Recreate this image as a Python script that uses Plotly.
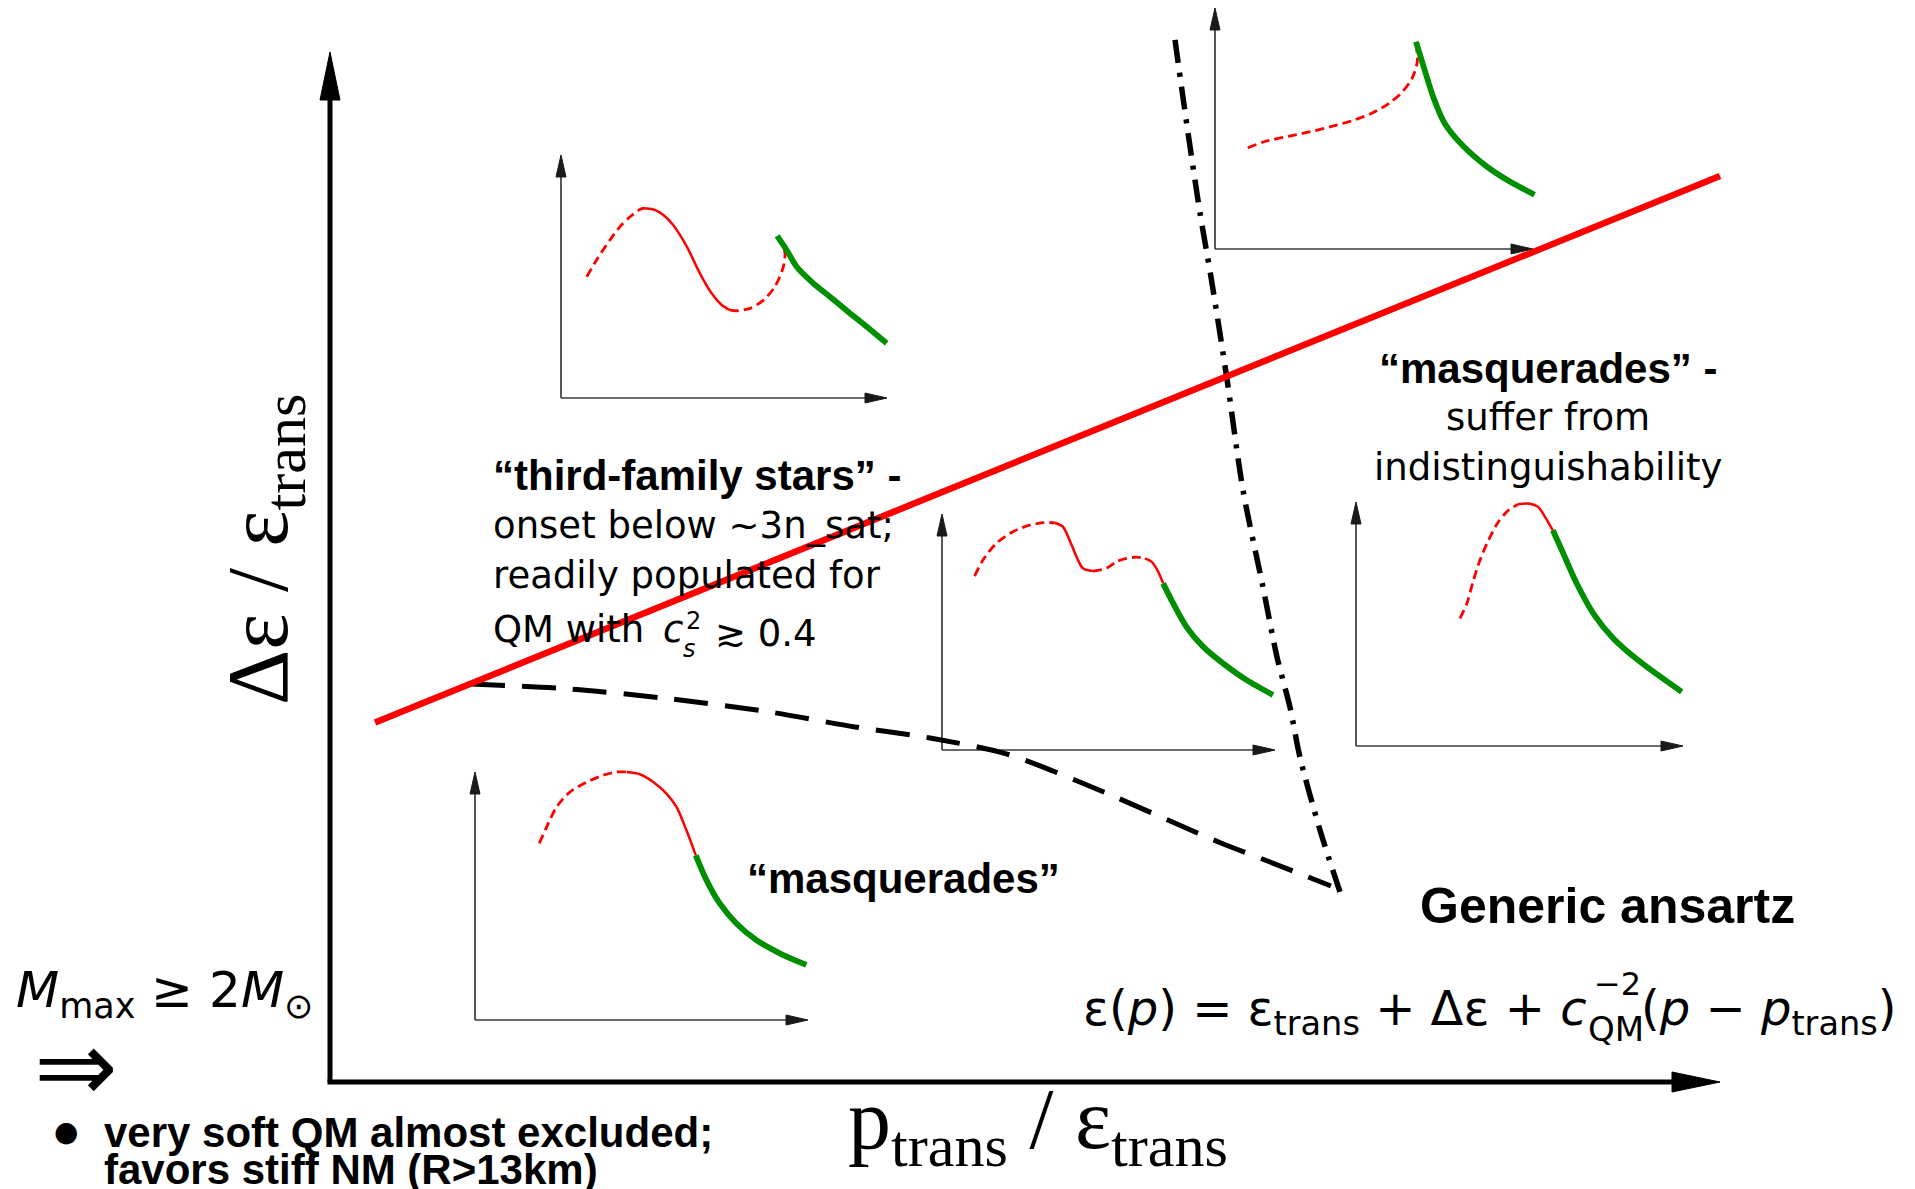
import plotly.graph_objects as go

PAGE_W, PAGE_H = 1915, 1189

# ======================= DATA =======================
# Main diagram, in axis units (arrow tip of each main axis = 1)
red_boundary_x = [0.0324, 1.0]
red_boundary_y = [0.3490, 0.8796]
dashed_boundary_x = [0.1014, 0.1727, 0.2460, 0.3165, 0.3777, 0.4317, 0.4871, 0.5532, 0.6410, 0.6763, 0.7201]
dashed_boundary_y = [0.3864, 0.3816, 0.3718, 0.3592, 0.3447, 0.3340, 0.3184, 0.2835, 0.2320, 0.2136, 0.1903]
dashdot_boundary_x = [0.6079, 0.6173, 0.6259, 0.6338, 0.6453, 0.6568, 0.6712, 0.6813, 0.6906, 0.6978, 0.7122, 0.7266]
dashdot_boundary_y = [1.0117, 0.9214, 0.8437, 0.7816, 0.6825, 0.5748, 0.4806, 0.4126, 0.3641, 0.3155, 0.2447, 0.1845]

# Inset curves, in inset units (0..100 = inset arrow tip)
# A: top-left inset (third family, two maxima)
A_dash1_x = [7.9, 10.9, 15.0, 18.1, 21.2, 24.2, 25.8]
A_dash1_y = [49.9, 56.8, 65.0, 70.5, 74.6, 77.6, 78.1]
A_solid_x = [25.8, 28.8, 31.4, 34.4, 38.6, 42.6, 46.2, 49.3, 51.8]
A_solid_y = [78.1, 77.4, 75.3, 71.2, 62.3, 51.3, 43.1, 38.3, 36.2]
A_dash2_x = [51.8, 53.9, 58.0, 62.1, 65.6, 68.2, 68.7, 67.7, 66.3]
A_dash2_y = [36.2, 35.9, 36.9, 40.3, 45.8, 54.0, 59.5, 64.3, 66.7]
A_green_x = [66.3, 69.2, 72.3, 77.4, 82.5, 88.7, 93.8, 99.9]
A_green_y = [66.7, 60.9, 54.0, 47.2, 41.7, 34.8, 29.3, 22.5]
# B: top-right inset
B_dash_x = [10.3, 15.7, 22.9, 30.1, 37.3, 43.3, 49.4, 54.8, 59.0, 62.0, 63.6, 63.2]
B_dash_y = [41.9, 44.6, 46.7, 48.7, 51.1, 53.3, 56.4, 60.5, 65.3, 70.9, 77.7, 85.4]
B_green_x = [63.2, 65.6, 68.6, 72.2, 78.2, 85.5, 92.7, 100.5]
B_green_y = [86.0, 75.7, 63.2, 52.2, 42.5, 34.2, 28.0, 22.5]
# C: middle inset
C_dash1_x = [9.8, 12.3, 16.3, 21.3, 26.3, 30.3, 33.8]
C_dash1_y = [73.7, 80.5, 87.6, 92.5, 95.3, 96.3, 96.3]
C_solid1_x = [33.8, 36.3, 38.3, 40.4, 42.3, 45.3]
C_solid1_y = [96.3, 94.6, 89.0, 81.9, 77.0, 75.8]
C_dash2_x = [45.3, 49.4, 52.4, 55.4, 58.4, 60.9]
C_dash2_y = [75.8, 77.0, 79.8, 81.2, 81.7, 81.2]
C_solid2_x = [60.9, 62.9, 64.9, 66.4]
C_solid2_y = [81.2, 79.8, 75.6, 70.6]
C_green_x = [66.4, 69.4, 73.4, 78.4, 84.4, 91.4, 99.4]
C_green_y = [70.6, 62.2, 52.2, 43.8, 36.7, 29.7, 23.3]
# D: right inset
D_dash_x = [31.8, 33.9, 35.9, 37.9, 40.5, 43.5, 46.6, 49.6]
D_dash_y = [52.3, 58.4, 67.9, 76.1, 84.3, 91.8, 96.6, 99.1]
D_solid_x = [49.6, 53.2, 55.7, 57.8, 60.2]
D_solid_y = [99.1, 99.3, 98.0, 93.9, 88.4]
D_green_x = [60.2, 63.4, 67.5, 72.6, 78.7, 86.9, 99.6]
D_green_y = [88.4, 78.9, 66.6, 54.3, 44.1, 34.5, 22.2]
# E: bottom-left inset
E_dash_x = [19.3, 21.5, 24.5, 28.5, 33.5, 38.5, 42.5, 45.5]
E_dash_y = [71.2, 77.8, 85.9, 91.9, 95.9, 98.7, 100.0, 100.0]
E_solid_x = [45.5, 49.5, 53.5, 57.5, 60.5, 63.5, 66.3]
E_solid_y = [100.0, 99.1, 96.0, 91.3, 85.9, 76.5, 66.4]
E_green_x = [66.3, 69.5, 73.5, 78.5, 84.5, 91.5, 99.5]
E_green_y = [66.4, 56.4, 47.0, 38.9, 32.2, 26.9, 22.2]

# ======================= LAYOUT GEOMETRY / STYLE =======================
MAIN_ORIGIN = (330, 1082)      # page px of main axes origin
MAIN_LEN = (1390, 1030)        # px length of main axes (to arrow tips)
INSET_BOXES = [                # origin x, origin y, x length, y length (page px)
    (561, 398, 326, 243),
    (1215, 249, 318, 241),
    (942, 750, 333, 236),
    (1356, 746, 327, 244),
    (475, 1020, 333, 248),
]
RED = '#ff0000'
GREEN = '#008f00'
SANS = 'DejaVu Sans'
BOLD = 'Liberation Sans, Arial, sans-serif'
SERIF = 'Liberation Serif, Times New Roman, serif'

STY = {
    'dash': dict(color=RED, width=2.8, dash='9px,5px', shape='spline', smoothing=0.8),
    'solid': dict(color=RED, width=2.5, shape='spline', smoothing=0.8),
    'green': dict(color=GREEN, width=5.8, shape='spline', smoothing=0.8),
}

inset_segments = [
    [(A_dash1_x, A_dash1_y, 'dash'), (A_solid_x, A_solid_y, 'solid'),
     (A_dash2_x, A_dash2_y, 'dash'), (A_green_x, A_green_y, 'green')],
    [(B_dash_x, B_dash_y, 'dash'), (B_green_x, B_green_y, 'green')],
    [(C_dash1_x, C_dash1_y, 'dash'), (C_solid1_x, C_solid1_y, 'solid'),
     (C_dash2_x, C_dash2_y, 'dash'), (C_solid2_x, C_solid2_y, 'solid'),
     (C_green_x, C_green_y, 'green')],
    [(D_dash_x, D_dash_y, 'dash'), (D_solid_x, D_solid_y, 'solid'), (D_green_x, D_green_y, 'green')],
    [(E_dash_x, E_dash_y, 'dash'), (E_solid_x, E_solid_y, 'solid'), (E_green_x, E_green_y, 'green')],
]

fig = go.Figure()
layout_axes = {}
shapes = []


def ax_names(i):
    s = '' if i == 1 else str(i)
    return 'x' + s, 'y' + s, 'xaxis' + s, 'yaxis' + s


def arrowhead(xref, yref, xa, ya, direction, L, hw, color, layer):
    if direction == 'right':
        path = f'M0,0 L{-L},{hw} L{-L},{-hw} Z'
    else:
        path = f'M0,0 L{-hw},{-L} L{hw},{-L} Z'
    return dict(type='path', xref=xref, yref=yref, xsizemode='pixel', ysizemode='pixel',
                xanchor=xa, yanchor=ya, path=path, fillcolor=color,
                line=dict(color=color, width=1), layer=layer)


# ---- insets (subplots 1..5) ----
PAD = 14
for i, (ox, oy, w, h) in enumerate(INSET_BOXES, start=1):
    xr, yr, xk, yk = ax_names(i)
    x0p, x1p = max(0, ox - PAD), min(PAGE_W, ox + w + PAD)
    ytp, ybp = max(0, oy - h - PAD), min(PAGE_H, oy + PAD)
    layout_axes[xk] = dict(domain=[x0p / PAGE_W, x1p / PAGE_W],
                           range=[(x0p - ox) / w * 100, (x1p - ox) / w * 100],
                           visible=False, fixedrange=True, anchor=yr)
    layout_axes[yk] = dict(domain=[1 - ybp / PAGE_H, 1 - ytp / PAGE_H],
                           range=[(oy - ybp) / h * 100, (oy - ytp) / h * 100],
                           visible=False, fixedrange=True, anchor=xr)
    for sx, sy, kind in inset_segments[i - 1]:
        fig.add_trace(go.Scatter(x=sx, y=sy, xaxis=xr, yaxis=yr, mode='lines',
                                 line=STY[kind], hoverinfo='skip', showlegend=False))
    L, hw = 22, 5
    axis_line = dict(color='#3a3a3a', width=1.7)
    shapes.append(dict(type='line', xref=xr, yref=yr, x0=0, y0=0, x1=100 - (L - 3) / w * 100, y1=0,
                       line=axis_line, layer='below'))
    shapes.append(dict(type='line', xref=xr, yref=yr, x0=0, y0=0, x1=0, y1=100 - (L - 3) / h * 100,
                       line=axis_line, layer='below'))
    shapes.append(arrowhead(xr, yr, 100, 0, 'right', L, hw, '#1a1a1a', 'below'))
    shapes.append(arrowhead(xr, yr, 0, 100, 'up', L, hw, '#1a1a1a', 'below'))

# ---- main diagram (subplot 6, drawn on top) ----
ox, oy = MAIN_ORIGIN
lx, ly = MAIN_LEN
layout_axes['xaxis6'] = dict(domain=[0, 1], range=[(0 - ox) / lx, (PAGE_W - ox) / lx],
                             visible=False, fixedrange=True, anchor='y6')
layout_axes['yaxis6'] = dict(domain=[0, 1], range=[(oy - PAGE_H) / ly, oy / ly],
                             visible=False, fixedrange=True, anchor='x6')

fig.add_trace(go.Scatter(x=dashed_boundary_x, y=dashed_boundary_y, xaxis='x6', yaxis='y6', mode='lines',
                         line=dict(color='black', width=5, dash='34px,17px', shape='spline', smoothing=0.8),
                         hoverinfo='skip', showlegend=False))
fig.add_trace(go.Scatter(x=dashdot_boundary_x, y=dashdot_boundary_y, xaxis='x6', yaxis='y6', mode='lines',
                         line=dict(color='black', width=5.5, dash='23px,10px,4px,10px', shape='spline', smoothing=0.8),
                         hoverinfo='skip', showlegend=False))
fig.add_trace(go.Scatter(x=red_boundary_x, y=red_boundary_y, xaxis='x6', yaxis='y6', mode='lines',
                         line=dict(color=RED, width=6.5), hoverinfo='skip', showlegend=False))

ML, MW = 48, 10
shapes.append(dict(type='line', xref='x6', yref='y6', x0=-2.5 / lx, y0=0, x1=1 - (ML - 4) / lx, y1=0,
                   line=dict(color='black', width=5), layer='above'))
shapes.append(dict(type='line', xref='x6', yref='y6', x0=0, y0=0, x1=0, y1=1 - (ML - 4) / ly,
                   line=dict(color='black', width=5), layer='above'))
shapes.append(arrowhead('x6', 'y6', 1, 0, 'right', ML, MW, 'black', 'above'))
shapes.append(arrowhead('x6', 'y6', 0, 1, 'up', ML, MW, 'black', 'above'))

# ---- text ----
annotations = []


def label(text, xpx, base, size, family, anchor='left', angle=0, k=0.35):
    annotations.append(dict(text=text, x=xpx / PAGE_W, y=1 - (base - k * size) / PAGE_H,
                            xref='paper', yref='paper', xanchor=anchor, yanchor='middle',
                            showarrow=False, textangle=angle,
                            font=dict(size=size, family=family, color='black')))


# third-family block
label('<b>“third-family stars” -</b>', 491, 490, 42, BOLD)
label('onset below ~3n_sat;', 491, 538, 37, SANS)
label('readily populated for', 491, 588, 37, SANS)
label('QM with', 491, 642, 37, SANS)
label('<i>c</i>', 661, 642, 37, SANS)
label('2', 684, 629, 24, SANS)
label('<i>s</i>', 681, 657, 24, SANS)
label('≳ 0.4', 713, 646, 37, SANS)

# masquerades (right)
label('<b>“masquerades” -</b>', 1548, 383, 42, BOLD, anchor='center')
label('suffer from', 1548, 430, 37, SANS, anchor='center')
label('indistinguishability', 1548, 480, 37, SANS, anchor='center')

# masquerades (lower)
label('<b>“masquerades”</b>', 745, 893, 42, BOLD)

# Generic ansatz + formula
label('<b>Generic ansartz</b>', 1418, 923, 50, BOLD)
label('ε(<i>p</i>) = ε<sub>trans</sub> + Δε + <i>c</i>', 1081, 1025, 48, SANS, k=0.28)
label('−2', 1592, 995, 32, SANS)
label('QM', 1586, 1041, 34, SANS)
label('(<i>p</i> − <i>p</i><sub>trans</sub>)', 1898, 1025, 48, SANS, anchor='right', k=0.28)

# left margin notes
label('<i>M</i><sub>max</sub> ≥ 2<i>M</i><sub>⊙</sub>', 14, 1007, 50, SANS, k=0.28)
label('⇒', 76, 1066 + 0.35 * 100, 100, SANS, anchor='center')
label('●', 66, 1131 + 0.35 * 28, 28, SANS, anchor='center')
label('<b>very soft QM almost excluded;</b>', 102, 1147, 42, BOLD)
label('<b>favors stiff NM (R>13km)</b>', 102, 1184, 42, BOLD)

# axis titles
label('p<sub>trans</sub> / ε<sub>trans</sub>', 846, 1148, 86, SERIF, k=0.27)
annotations.append(dict(text='Δε / ε<sub>trans</sub>', x=264 / PAGE_W, y=1 - 550 / PAGE_H,
                        xref='paper', yref='paper', xanchor='center', yanchor='middle',
                        showarrow=False, textangle=-90,
                        font=dict(size=86, family=SERIF, color='black')))

fig.update_layout(
    width=PAGE_W, height=PAGE_H, autosize=False,
    margin=dict(l=0, r=0, t=0, b=0, pad=0),
    paper_bgcolor='white', plot_bgcolor='rgba(0,0,0,0)',
    showlegend=False, shapes=shapes, annotations=annotations,
    **layout_axes,
)

fig.write_html('out.html', include_plotlyjs=True, config={'displayModeBar': False, 'staticPlot': True})
